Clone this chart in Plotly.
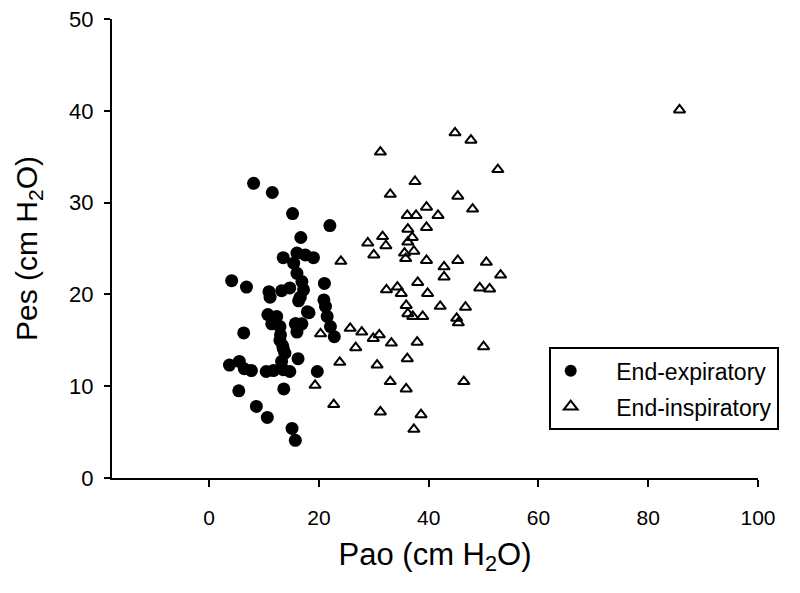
import plotly.graph_objects as go

# End-expiratory (filled circles)
exp_x = [8.1, 11.5, 15.2, 22.0, 16.7, 13.5, 16.0, 17.5, 19.0, 15.4, 16.0, 16.9, 17.2, 16.6,
         4.1, 6.8, 10.9, 11.1, 13.2, 14.7, 21.0, 20.9, 21.2, 21.5, 22.1, 22.8, 17.9,
         10.7, 12.3, 11.4, 12.9, 15.7, 16.9, 16.0, 6.3, 12.9, 13.5, 13.8, 13.2, 16.2,
         3.7, 5.5, 6.4, 7.7, 10.4, 11.7, 13.5, 14.7, 19.7, 5.4, 13.6, 8.6, 10.6, 15.1, 15.7,
         16.3, 18.2, 13.0, 13.4, 15.8]
exp_y = [32.1, 31.1, 28.8, 27.5, 26.2, 24.0, 24.5, 24.3, 24.0, 23.4, 22.3, 21.4, 20.5, 19.7,
         21.5, 20.8, 20.3, 19.7, 20.4, 20.7, 21.2, 19.4, 18.7, 17.6, 16.5, 15.4, 18.1,
         17.8, 17.6, 16.8, 16.5, 16.8, 16.8, 15.9, 15.8, 15.0, 14.1, 13.6, 12.7, 13.0,
         12.3, 12.7, 11.9, 11.7, 11.6, 11.7, 11.8, 11.6, 11.6, 9.5, 9.7, 7.8, 6.6, 5.4, 4.1,
         19.3, 18.0, 15.6, 14.4, 16.8]

# End-inspiratory (open triangles)
insp_x = [44.8, 47.7, 31.2, 52.6, 37.5, 33.0, 45.3, 48.0, 39.6, 36.1, 37.7, 41.7, 39.6, 36.2,
          37.0, 31.6, 28.9, 32.2, 36.2, 30.0, 35.6, 37.3, 35.8, 39.6, 45.3, 50.5, 24.0,
          42.8, 42.8, 53.1, 38.0, 32.3, 34.3, 35.0, 39.8, 49.3, 51.1, 35.9, 42.1, 46.7,
          36.2, 37.1, 38.9, 45.1, 45.4, 25.7, 27.8, 29.9, 31.0, 33.2, 37.9, 50.0, 26.7,
          20.3, 23.8, 30.6, 36.1, 33.0, 35.9, 46.4, 19.3, 22.7, 31.2, 38.6, 37.3, 85.7]
insp_y = [37.6, 36.8, 35.5, 33.6, 32.3, 30.9, 30.7, 29.3, 29.5, 28.6, 28.6, 28.6, 27.3, 27.1,
          26.2, 26.3, 25.6, 25.3, 25.7, 24.3, 24.5, 24.7, 23.9, 23.7, 23.7, 23.5, 23.6,
          23.0, 21.9, 22.1, 21.3, 20.5, 20.8, 20.1, 20.1, 20.7, 20.6, 18.8, 18.7, 18.6,
          17.9, 17.6, 17.6, 17.4, 16.9, 16.3, 15.9, 15.2, 15.6, 14.7, 14.8, 14.3, 14.2,
          15.7, 12.6, 12.3, 13.0, 10.5, 9.7, 10.5, 10.1, 8.0, 7.2, 6.9, 5.3, 40.1]

x_ticks = [0, 20, 40, 60, 80, 100]
y_ticks = [0, 10, 20, 30, 40, 50]

FONT = "Liberation Sans, Arial, sans-serif"
PAD = "\u00a0" * 4

fig = go.Figure()
fig.add_trace(go.Scatter(
    x=exp_x, y=exp_y, mode="markers", name=PAD + "End-expiratory", legendgroup="a",
    marker=dict(symbol="circle", size=13, color="black", line=dict(width=0)),
))
fig.add_trace(go.Scatter(
    x=insp_x, y=insp_y, mode="markers", name=PAD + "End-inspiratory", legendgroup="b",
    marker=dict(symbol="triangle-up-open", size=10, color="black", line=dict(width=2, color="black")),
))

fig.update_layout(
    width=800, height=593,
    margin=dict(l=112, r=42, t=19, b=115, autoexpand=False),
    paper_bgcolor="white", plot_bgcolor="white",
    font=dict(family=FONT, color="black"),
    showlegend=True,
    legend=dict(
        x=0.676, y=0.285, xanchor="left", yanchor="top",
        bordercolor="black", borderwidth=2, bgcolor="white",
        font=dict(size=23, family=FONT, color="black"),
        itemsizing="constant", itemwidth=30,
        traceorder="grouped", tracegroupgap=3,
    ),
    xaxis=dict(
        range=[-17.7, 100], tickvals=x_ticks, ticktext=[str(v) for v in x_ticks],
        automargin=False,
        showline=True, linecolor="black", linewidth=2, showgrid=False, zeroline=False,
        ticks="outside", ticklen=7, tickwidth=2, tickcolor="black",
        tickfont=dict(size=21), ticklabelstandoff=13,
        title=dict(text="Pao (cm H<sub>2</sub>O)", font=dict(size=31), standoff=15),
    ),
    yaxis=dict(
        range=[0, 50], tickvals=y_ticks, ticktext=[str(v) for v in y_ticks],
        automargin=False,
        showline=True, linecolor="black", linewidth=2, showgrid=False, zeroline=False,
        ticks="outside", ticklen=6, tickwidth=2, tickcolor="black",
        tickfont=dict(size=22), ticklabelstandoff=6,
        title=dict(text="Pes (cm H<sub>2</sub>O)", font=dict(size=30), standoff=23),
    ),
)

fig.write_html("out.html", config={"displayModeBar": False},
               post_script="document.body.style.margin='0';")
